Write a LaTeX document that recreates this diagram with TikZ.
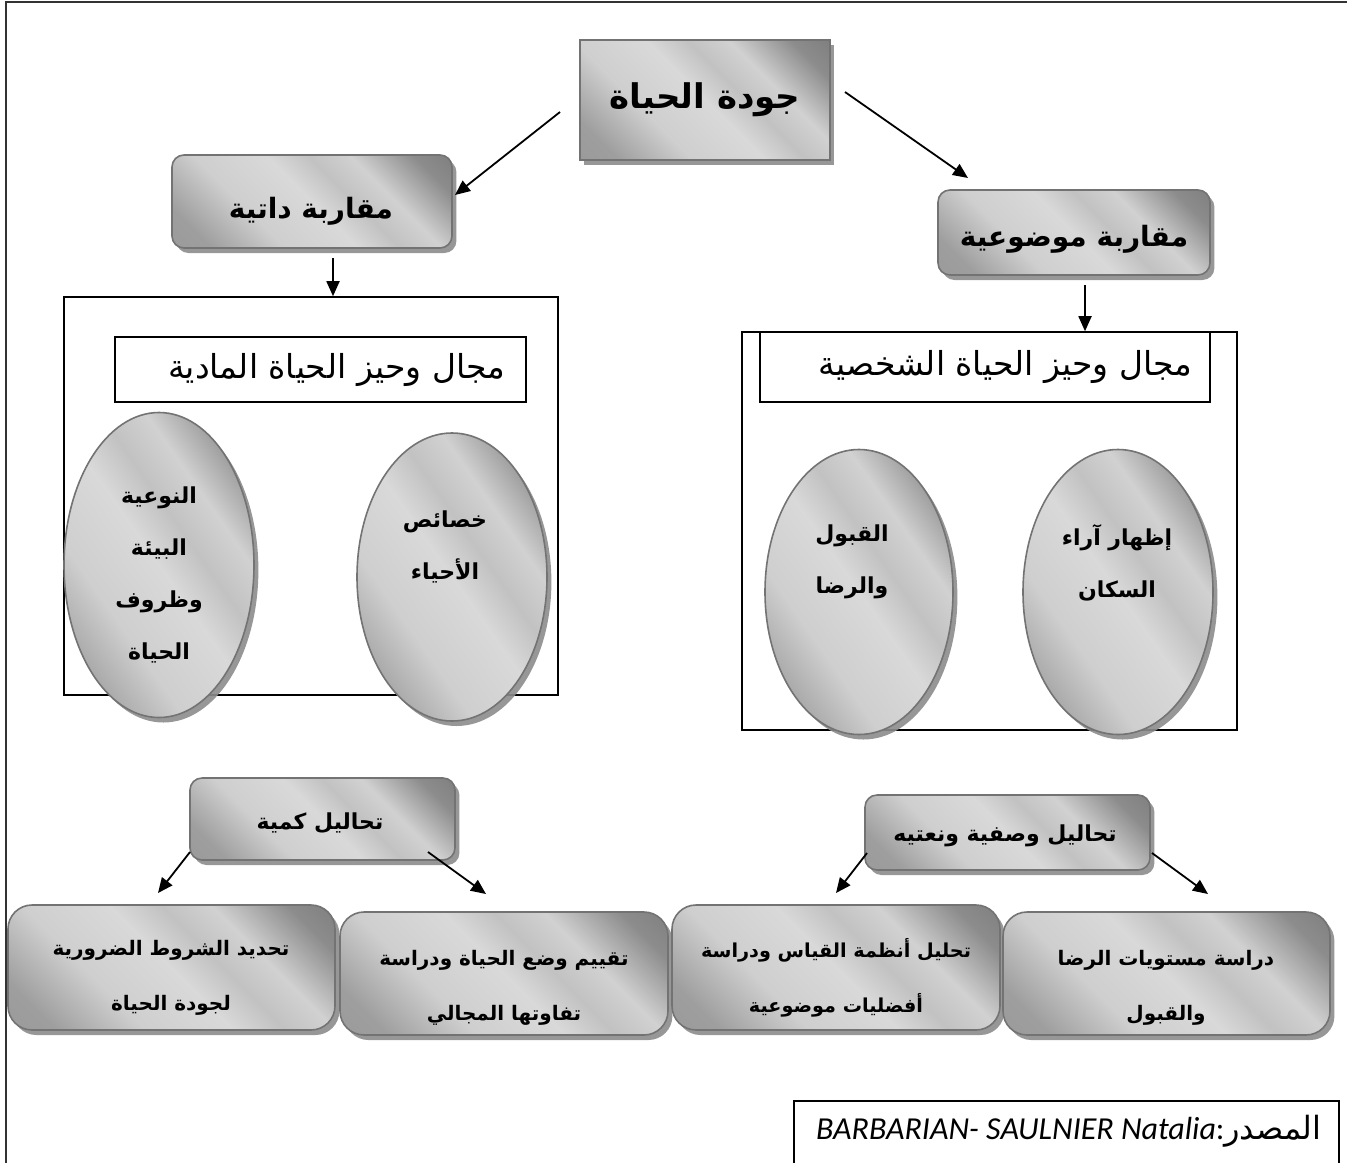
\documentclass[tikz,border=0pt]{standalone}
\usepackage{fontspec}
\setmainfont{DejaVu Sans}
\newfontfamily\arabicfont[Script=Arabic]{DejaVu Sans}
\newfontfamily\srcfont{Carlito}
\TeXXeTstate=1
\usetikzlibrary{arrows.meta,shadows,shapes.geometric}

% silver gradient used for the boxes and ellipses
\pgfdeclarehorizontalshading{silver}{100bp}{%
  color(0bp)=(black!42); color(22bp)=(black!38); color(36bp)=(black!19);
  color(50bp)=(black!15); color(58bp)=(black!24); color(66bp)=(black!18);
  color(78bp)=(black!45); color(100bp)=(black!60)}

\tikzset{
  sz/.style 2 args={minimum width=#1*0.5pt, minimum height=#2*0.5pt},
  silverfill/.style={draw=black!55, line width=0.8pt, shading=silver, shading angle=45,
    drop shadow={shadow xshift=2.2pt, shadow yshift=-2.5pt, fill=black!45, opacity=0.9},
    inner sep=0pt, align=center},
  titlebox/.style={silverfill, rectangle,
    font=\arabicfont\bfseries\fontsize{17pt}{20pt}\selectfont},
  approach/.style={silverfill, rectangle, rounded corners=6pt},
  approachtext/.style={font=\arabicfont\bfseries\fontsize{14pt}{17pt}\selectfont, inner sep=0pt},
  analysis/.style={silverfill, rectangle, rounded corners=6pt},
  analysistext/.style={font=\arabicfont\bfseries\fontsize{11pt}{14pt}\selectfont, inner sep=0pt},
  taskbox/.style={silverfill, rectangle, rounded corners=12pt},
  tasktext/.style={font=\arabicfont\bfseries\fontsize{10pt}{27.5pt}\selectfont, align=center, inner sep=0pt},
  bubble/.style={silverfill, ellipse, shading angle=35},
  bubbletext/.style={font=\arabicfont\bfseries\fontsize{11pt}{26pt}\selectfont, align=center, inner sep=0pt},
  framebox/.style={draw=black, line width=0.8pt, rectangle, inner sep=0pt},
  domainbox/.style={framebox, font=\arabicfont\fontsize{16.5pt}{19pt}\selectfont, align=flush right},
  arr/.style={line width=0.9pt, -{Triangle[length=7.5pt,width=6.5pt]}},
}

\begin{document}
\begin{tikzpicture}[x=0.5pt, y=-0.5pt]
\useasboundingbox (0,0) rectangle (1347,1162);

% page frame
\draw[line width=1pt, black!80] (6,1175) -- (6,2) -- (1360,2);

% domain containers
\node[framebox, sz={494}{398}] (leftC)  at (311,496) {};
\node[framebox, sz={495}{398}] (rightC) at (989.5,531) {};
\node[domainbox, sz={411}{65}, text width=184.5pt, inner xsep=10.5pt] (leftL) at (320.5,369.5)
  {\beginR مجال وحيز الحياة المادية\endR};
\node[domainbox, sz={450}{70}, text width=207pt, inner xsep=9pt] (rightL) at (985,367)
  {\beginR مجال وحيز الحياة الشخصية\endR};

% ellipses
\node[bubble, sz={190}{305}] (e1) at (159,565) {};
\node[bubble, sz={190}{288}] (e2) at (452,577) {};
\node[bubble, sz={188}{285}] (e3) at (859,592) {};
\node[bubble, sz={190}{285}] (e4) at (1118,592) {};
\node[bubbletext] (e1t) at (159,575)
  {\beginR النوعية\endR\\\beginR البيئة\endR\\\beginR وظروف\endR\\\beginR الحياة\endR};
\node[bubbletext] (e2t) at (445,547) {\beginR خصائص\endR\\\beginR الأحياء\endR};
\node[bubbletext] (e3t) at (852,562) {\beginR القبول\endR\\\beginR والرضا\endR};
\node[bubbletext] (e4t) at (1117,563) {\beginR إظهار آراء\endR\\\beginR السكان\endR};

% top of the hierarchy
\node[titlebox, sz={250}{120}] (title) at (705,100) {\beginR جودة الحياة\endR};
\node[approach, sz={280}{93}] (subj) at (312,201.5) {};
\node[approach, sz={272}{85}] (obj) at (1074,232.5) {};
\node[approachtext] (subjt) at (311,211) {\beginR مقاربة داتية\endR};
\node[approachtext] (objt) at (1074,239) {\beginR مقاربة موضوعية\endR};

% analyses
\node[analysis, sz={265}{82}] (quant) at (322.5,819) {};
\node[analysis, sz={285}{75}] (qual) at (1007.5,832.5) {};
\node[analysistext] (quantt) at (320,823) {\beginR تحاليل كمية\endR};
\node[analysistext] (qualt) at (1005,836) {\beginR تحاليل وصفية ونعتيه\endR};

% tasks
\node[taskbox, sz={327}{125}] (b1) at (171.5,967.5) {};
\node[taskbox, sz={328}{123}] (b2) at (504,973.5) {};
\node[taskbox, sz={328}{125}] (b3) at (836,967.5) {};
\node[taskbox, sz={327}{123}] (b4) at (1166.5,973.5) {};
\node[tasktext] (b1t) at (171,978)
  {\beginR تحديد الشروط الضرورية\endR\\\beginR لجودة الحياة\endR};
\node[tasktext] (b2t) at (504,988)
  {\beginR تقييم وضع الحياة ودراسة\endR\\\beginR تفاوتها المجالي\endR};
\node[tasktext, font=\arabicfont\bfseries\fontsize{9.6pt}{27.5pt}\selectfont] (b3t) at (836,978)
  {\beginR تحليل أنظمة القياس ودراسة\endR\\\beginR أفضليات موضوعية\endR};
\node[tasktext] (b4t) at (1166,988)
  {\beginR دراسة مستويات الرضا\endR\\\beginR والقبول\endR};

% source
\node[framebox, sz={545}{90}, anchor=north west] (src) at (793,1100) {};
\node[anchor=east, inner sep=0pt, font=\fontsize{16pt}{19pt}\selectfont] (srct) at (1322,1131)
  {{\srcfont\itshape BARBARIAN- SAULNIER Natalia}{\srcfont :}{\arabicfont\beginR المصدر\endR}};

% connectors
\coordinate (s1) at (560,112);  \coordinate (t1) at (455,195);
\coordinate (s2) at (845,92);   \coordinate (t2) at (968,178);
\coordinate (s3) at (333,258);
\coordinate (s4) at (1085,285);
\coordinate (s5) at (190,852);  \coordinate (t5) at (158,893);
\coordinate (s6) at (428,852);  \coordinate (t6) at (486,894);
\coordinate (s7) at (867,853);  \coordinate (t7) at (836,893);
\coordinate (s8) at (1152,853); \coordinate (t8) at (1208,894);

\draw[arr] (s1) -- (t1);
\draw[arr] (s2) -- (t2);
\draw[arr] (s3) -- (s3 |- leftC.north);
\draw[arr] (s4) -- (s4 |- rightC.north);
\draw[arr] (s5) -- (t5);
\draw[arr] (s6) -- (t6);
\draw[arr] (s7) -- (t7);
\draw[arr] (s8) -- (t8);
\end{tikzpicture}
\end{document}
